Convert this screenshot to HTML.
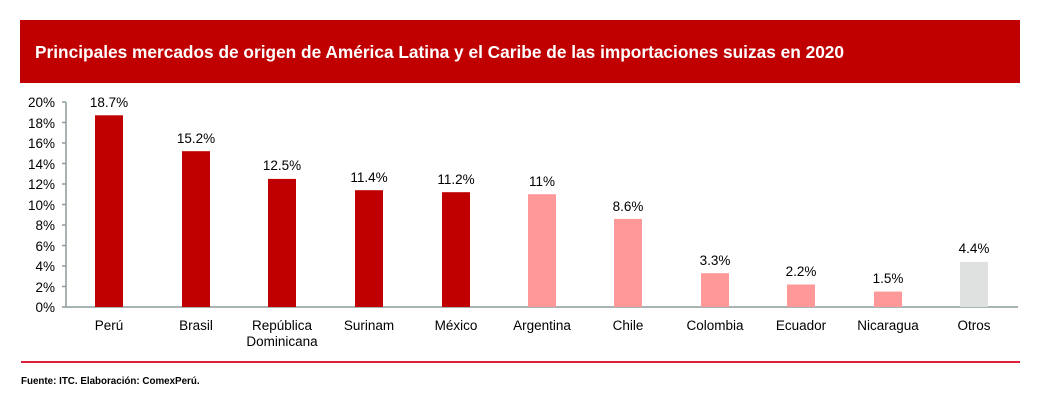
<!DOCTYPE html>
<html><head><meta charset="utf-8"><style>
html,body{margin:0;padding:0;background:#fff;}
svg{display:block;font-family:"Liberation Sans",Arial,sans-serif;}
</style></head><body>
<svg width="1040" height="402" xmlns="http://www.w3.org/2000/svg">
<rect x="20" y="20" width="1000" height="63" fill="#c00000"/>
<text x="35" y="58" fill="#fff" font-size="17.3" font-weight="bold">Principales mercados de origen de América Latina y el Caribe de las importaciones suizas en 2020</text>
<g fill="#000" font-size="13.5" text-anchor="end">
<text x="55" y="107">20%</text><text x="55" y="128">18%</text><text x="55" y="148">16%</text><text x="55" y="169">14%</text><text x="55" y="189">12%</text><text x="55" y="210">10%</text><text x="55" y="230">8%</text><text x="55" y="251">6%</text><text x="55" y="271">4%</text><text x="55" y="292">2%</text><text x="55" y="312">0%</text>
</g>
<g stroke="#8c9c9c" stroke-width="1.5">
<line x1="66" y1="102" x2="66" y2="307"/>
<line x1="62" y1="307" x2="1018" y2="307"/>
<line x1="62" y1="102" x2="66" y2="102"/><line x1="62" y1="122.5" x2="66" y2="122.5"/><line x1="62" y1="143" x2="66" y2="143"/><line x1="62" y1="163.5" x2="66" y2="163.5"/><line x1="62" y1="184" x2="66" y2="184"/><line x1="62" y1="204.5" x2="66" y2="204.5"/><line x1="62" y1="225" x2="66" y2="225"/><line x1="62" y1="245.5" x2="66" y2="245.5"/><line x1="62" y1="266" x2="66" y2="266"/><line x1="62" y1="286.5" x2="66" y2="286.5"/>
</g>
<g>
<rect x="95" y="115.3" width="28" height="191.7" fill="#c00000"/>
<rect x="182" y="151.2" width="28" height="155.8" fill="#c00000"/>
<rect x="268" y="178.9" width="28" height="128.1" fill="#c00000"/>
<rect x="355" y="190.2" width="28" height="116.8" fill="#c00000"/>
<rect x="442" y="192.2" width="28" height="114.8" fill="#c00000"/>
<rect x="528" y="194.2" width="28" height="112.8" fill="#ff9999"/>
<rect x="614" y="218.9" width="28" height="88.1" fill="#ff9999"/>
<rect x="701" y="273.2" width="28" height="33.8" fill="#ff9999"/>
<rect x="787" y="284.5" width="28" height="22.5" fill="#ff9999"/>
<rect x="874" y="291.6" width="28" height="15.4" fill="#ff9999"/>
<rect x="960" y="261.9" width="28" height="45.1" fill="#dfe1e1"/>
</g>
<g font-size="13.5" text-anchor="middle" fill="#000">
<text x="109" y="107">18.7%</text><text x="196" y="143">15.2%</text><text x="282" y="170">12.5%</text><text x="369" y="182">11.4%</text><text x="456" y="184">11.2%</text><text x="542" y="186">11%</text><text x="628" y="211">8.6%</text><text x="715" y="265">3.3%</text><text x="801" y="276">2.2%</text><text x="888" y="283">1.5%</text><text x="974" y="253">4.4%</text>
<text x="109" y="330">Perú</text><text x="196" y="330">Brasil</text><text x="282" y="330">República</text><text x="282" y="346">Dominicana</text><text x="369" y="330">Surinam</text><text x="456" y="330">México</text><text x="542" y="330">Argentina</text><text x="628" y="330">Chile</text><text x="715" y="330">Colombia</text><text x="801" y="330">Ecuador</text><text x="888" y="330">Nicaragua</text><text x="974" y="330">Otros</text>
</g>
<rect x="21" y="361" width="999" height="2" fill="#e0203a"/>
<text x="21" y="384" font-size="9.8" font-weight="bold" fill="#000">Fuente: ITC. Elaboración: ComexPerú.</text>
</svg>
</body></html>
